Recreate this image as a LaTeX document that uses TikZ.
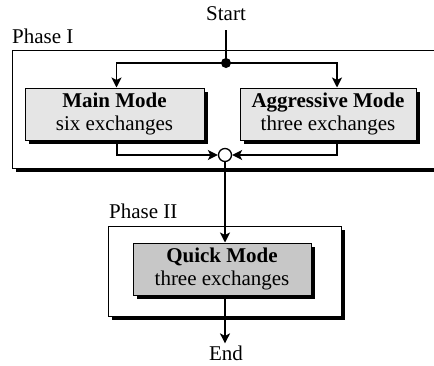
\documentclass[tikz,border=0pt]{standalone}
\usepackage{fontspec}
\setmainfont{Liberation Serif}
\usetikzlibrary{shadows,arrows.meta}
\begin{document}
\begin{tikzpicture}[x=1pt,y=-1pt,
  txt/.style={font=\fontsize{21}{22.5}\selectfont, inner sep=0pt},
  shadowed/.style={draw=black, line width=1pt,
     drop shadow={shadow xshift=4pt, shadow yshift=-4pt, opacity=1, fill=black}},
  phasebox/.style={shadowed, fill=white, rectangle, inner sep=0pt},
  modebox/.style={shadowed, rectangle, inner sep=0pt, align=center,
     font=\fontsize{21}{22.5}\selectfont, minimum height=52pt},
  conn/.style={line width=1.7pt},
  arr/.style={conn, -{Stealth[length=10pt,width=10pt,inset=2.5pt]}}
]
\useasboundingbox (0,0) rectangle (434,365);
% phase boxes
\node[phasebox, minimum width=428pt, minimum height=118pt] (ph1) at (226,109) {};
\node[txt, anchor=west] (ph1lab) at (12,36) {Phase I};
\node[phasebox, minimum width=233pt, minimum height=90pt] (ph2) at (224.5,271) {};
\node[txt, anchor=west] (ph2lab) at (109,211) {Phase II};
% mode boxes
\node[modebox, fill=black!10, minimum width=179pt] (main) at (114.5,114)
  {\textbf{Main Mode}\\six exchanges};
\node[modebox, fill=black!10, minimum width=176pt] (aggr) at (328,114)
  {\textbf{Aggressive Mode}\\three exchanges};
\node[modebox, fill=black!22, minimum width=178pt] (quick) at (222,269)
  {\textbf{Quick Mode}\\three exchanges};
% start / end
\node[txt] (start) at (226,14) {Start};
\node[txt] (end) at (226,353) {End};
% junctions
\node[circle, fill=black, inner sep=0pt, minimum size=10pt] (dot) at (226,63) {};
\node[circle, draw=black, line width=1.3pt, fill=white, inner sep=0pt, minimum size=13pt] (circ) at (225,155) {};
% connectors
\coordinate (s0) at (226,30);
\draw[conn] (s0) -- (dot.center);
\draw[arr] (dot.center) -| ([xshift=2pt]main.north);
\draw[arr] (dot.center) -| ([xshift=9pt]aggr.north);
\draw[arr] ([xshift=2.5pt]main.south) |- (circ.west);
\draw[arr] ([xshift=9pt]aggr.south) |- (circ.east);
\draw[arr] (circ.south) -- (circ.south |- quick.north);
\draw[arr] (quick.south -| circ) -- ([yshift=2pt]end.north -| circ);
\end{tikzpicture}
\end{document}
